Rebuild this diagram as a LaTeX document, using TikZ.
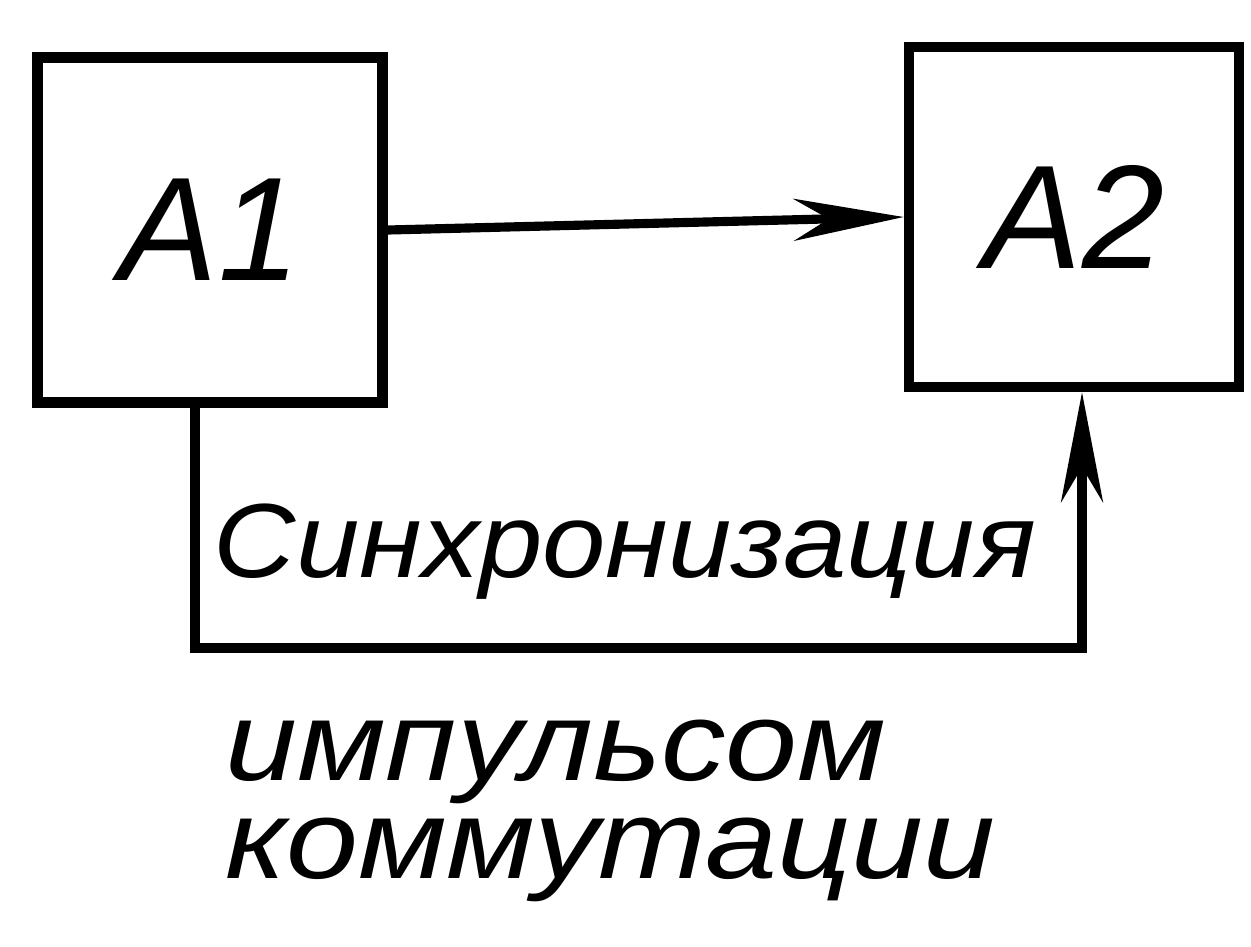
\documentclass[tikz,border=0pt]{standalone}
\usepackage{fontspec}
\setmainfont{Liberation Sans}
\usetikzlibrary{arrows.meta}
\begin{document}
\begin{tikzpicture}[line width=2.6pt, font=\itshape]
				\useasboundingbox (0,0) rectangle (12.51,-9.46);
				\tikzset{blk/.style={rectangle, draw=black, line width=3pt,
				inner sep=0pt, font=\itshape\fontsize{42}{42}\selectfont}}
				\node[blk,
				minimum width = 3.45cm,
				minimum height = 3.45cm] (A1) at(2.10,-2.30){A1};
				\node[blk,
				minimum width = 3.30cm,
				minimum height = 3.40cm] (A2) at(10.74,-2.17){A2};
				\coordinate (c1) at(1.95,-6.48);
				\coordinate (c2) at(10.82,-6.48);
				\draw[-{Stealth[length=1.1cm,width=0.42cm,inset=0.35cm]}] (A1.east) -- (A2.west);
				\draw[-{Stealth[length=1.1cm,width=0.42cm,inset=0.35cm]}] (A1.south -| c1) |- (c2) -- (c2 |- A2.south);
				\node[font=\itshape\fontsize{30}{30}\selectfont, xscale=1.08] (sync) at(6.25,-5.52){Синхронизация};
				\node[font=\itshape\fontsize{32}{28}\selectfont, xscale=1.15, align=left,
				inner sep=0pt, anchor=north west] (imp) at(2.20,-7.15){импульсом\\коммутации};
			\end{tikzpicture}
\end{document}
